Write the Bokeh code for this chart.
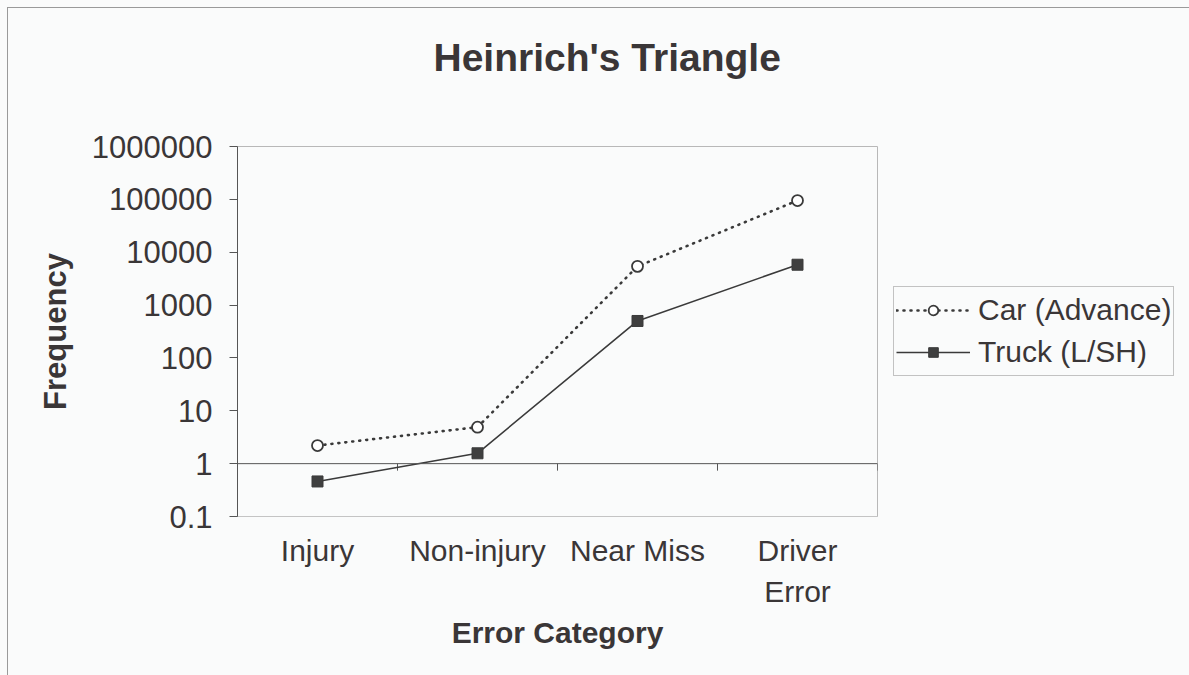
from bokeh.plotting import figure
from bokeh.models import (FactorRange, FixedTicker, CustomJSTickFormatter, Span, Legend,
                          LegendItem, Title, CategoricalAxis)
from bokeh.embed import file_html
from bokeh.resources import INLINE

# ---- data ----
categories = ["Injury", "Non-injury", "Near Miss", "Driver Error"]
category_line1 = ["Injury", "Non-injury", "Near Miss", "Driver"]
category_line2 = ["", "", "", "Error"]
car_values = [2.2, 4.9, 5400, 95000]
truck_values = [0.46, 1.57, 500, 5800]
y_ticks = [0.1, 1, 10, 100, 1000, 10000, 100000, 1000000]
y_tick_labels = ["0.1", "1", "10", "100", "1000", "10000", "100000", "1000000"]
boundaries = [1, 2, 3, 4]          # synthetic coordinates between categories
cross_value = 1                    # value where the category axis crosses

FONT = "Liberation Sans"
TXT = "#3a3637"
BG = "#fafbfb"
FRAME_W, FRAME_H = 640, 370
px_per_decade = FRAME_H / 7

p = figure(frame_width=FRAME_W, frame_height=FRAME_H, x_range=FactorRange(*categories),
           y_axis_type="log", y_range=(0.1, 1000000),
           output_backend="svg", toolbar_location=None, title=None,
           min_border_left=237, min_border_right=312, min_border_top=146,
           min_border_bottom=159)
p.background_fill_color = BG
p.border_fill_color = BG
p.border_fill_alpha = 0
p.styles = {"background-color": BG,
            "box-shadow": f"inset 7px 7px 0 0 {BG}, inset 8px 8px 0 0 #9a9a9a"}
p.outline_line_color = "#b8b8b8"
p.outline_line_width = 1
p.xgrid.visible = False
p.ygrid.visible = False

# spacer (closest to the frame) then the real title above it
p.add_layout(Title(text=" ", text_font_size="1px", standoff=60), "above")
title = Title(text="Heinrich's Triangle", align="left", offset=196, standoff=10,
              vertical_align="bottom",
              text_font=FONT, text_font_size="39px", text_font_style="bold",
              text_color=TXT)
p.add_layout(title, "above")

# y axis
ya = p.yaxis[0]
ya.ticker = FixedTicker(ticks=y_ticks, minor_ticks=[])
ya.formatter = CustomJSTickFormatter(
    args=dict(tvals=y_ticks, tlabels=y_tick_labels),
    code="""
    for (let i = 0; i < tvals.length; i++) {
        if (Math.abs(Math.log10(tvals[i]) - Math.log10(tick)) < 1e-6) return tlabels[i];
    }
    return '';
    """)
ya.axis_label = "Frequency"
ya.axis_label_text_font = FONT
ya.axis_label_text_font_size = "31px"
ya.axis_label_text_font_style = "bold"
ya.axis_label_text_color = TXT
ya.axis_label_standoff = 16
ya.major_label_text_font = FONT
ya.major_label_text_font_size = "31px"
ya.major_label_text_color = TXT
ya.major_label_standoff = 17
ya.major_tick_out = 8
ya.major_tick_in = 0
ya.minor_tick_out = 0
ya.minor_tick_in = 0
ya.axis_line_color = "#555555"
ya.major_tick_line_color = "#555555"

# x axis: first line of the category labels
cat_code = """
const i = cats.indexOf(tick);
return i >= 0 ? lines[i] : '';
"""
xa = p.xaxis[0]
xa.formatter = CustomJSTickFormatter(args=dict(cats=categories, lines=category_line1),
                                     code=cat_code)
xa.major_label_text_font = FONT
xa.major_label_text_font_size = "30px"
xa.major_label_text_color = TXT
xa.major_label_standoff = 11
xa.major_tick_out = 6
xa.major_tick_in = 0
xa.major_tick_line_color = None
xa.axis_line_color = "#c4c4c4"

# second line of the category labels, plus the axis title
xa2 = CategoricalAxis(formatter=CustomJSTickFormatter(
    args=dict(cats=categories, lines=category_line2), code=cat_code))
xa2.axis_line_color = None
xa2.major_tick_line_color = None
xa2.major_tick_out = 0
xa2.major_tick_in = 0
xa2.major_label_standoff = 5
xa2.major_label_text_font = FONT
xa2.major_label_text_font_size = "30px"
xa2.major_label_text_color = TXT
xa2.axis_label = "Error Category"
xa2.axis_label_text_font = FONT
xa2.axis_label_text_font_size = "30px"
xa2.axis_label_text_font_style = "bold"
xa2.axis_label_text_color = TXT
xa2.axis_label_standoff = 5
p.add_layout(xa2, "below")

# category axis crossing at 1, with tick marks between categories
p.add_layout(Span(location=cross_value, dimension="width", line_color="#555555",
                  line_width=1))
tick_px = 7
tick_end = cross_value * 10 ** (-tick_px / px_per_decade)
p.segment(x0=boundaries, x1=boundaries, y0=[cross_value] * len(boundaries),
          y1=[tick_end] * len(boundaries), line_color="#555555", line_width=1)

# series
car_line = p.line(categories, car_values, line_color="#3a3a3a", line_width=2.6,
                  line_dash="1 6", line_cap="round")
car_pts = p.scatter(categories, car_values, marker="circle", size=11,
                    line_color="#3a3a3a", line_width=1.8, fill_color="white")
truck_line = p.line(categories, truck_values, line_color="#3a3a3a", line_width=1.6)
truck_pts = p.scatter(categories, truck_values, marker="square", size=11,
                      line_color="#3a3a3a", fill_color="#3f3f3f")

legend = Legend(items=[
    LegendItem(label="Car (Advance)", renderers=[car_line, car_pts]),
    LegendItem(label="Truck (L/SH)", renderers=[truck_line, truck_pts]),
], location="center_left", orientation="vertical")
legend.margin = 16
legend.padding = 2
legend.spacing = 0
legend.glyph_width = 74
legend.glyph_height = 24
legend.label_height = 42
legend.label_standoff = 8
legend.label_text_font = FONT
legend.label_text_font_size = "30px"
legend.label_text_color = TXT
legend.border_line_color = "#8a8a8a"
legend.border_line_width = 1
legend.background_fill_color = BG
legend.background_fill_alpha = 1
p.add_layout(legend, "right")

open("out.html", "w").write(file_html(p, INLINE))
